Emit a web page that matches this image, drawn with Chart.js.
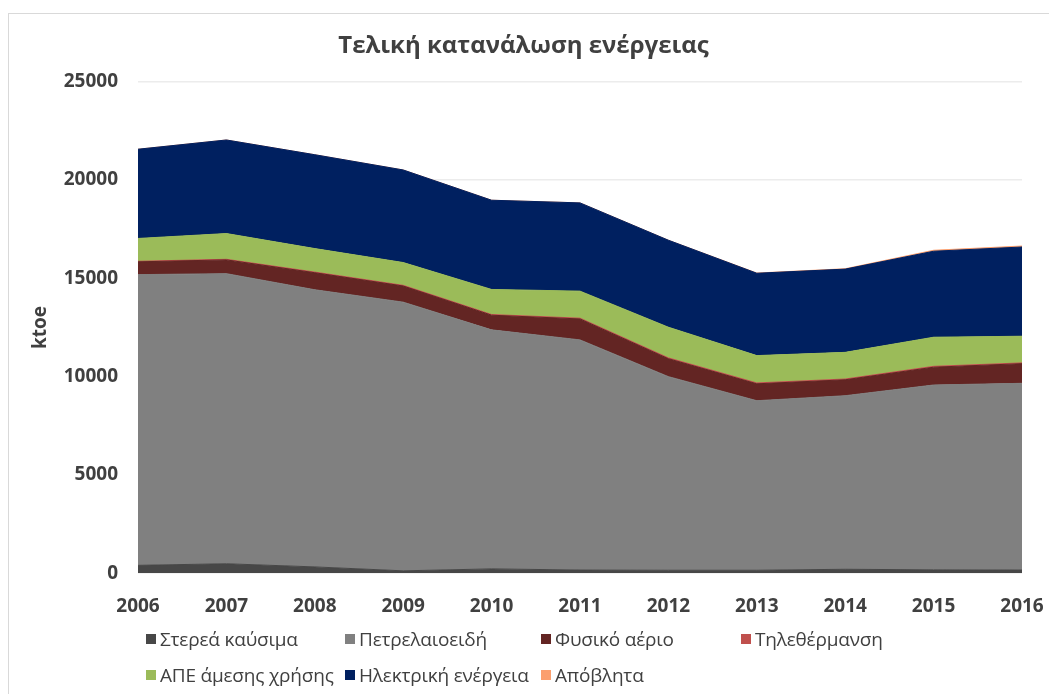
<!DOCTYPE html>
<html>
<head>
<meta charset="utf-8">
<script src="https://cdn.jsdelivr.net/npm/chart.js@4"></script>
<style>
	html, body { margin: 0; padding: 0; background: #fff; overflow: hidden; }
	#wrap { position: relative; width: 1049px; height: 694px; font-family: "Open Sans", sans-serif; }
	#frame { position: absolute; left: 8px; top: 13px; width: 1100px; height: 800px; border: 1px solid #d9d9d9; }
	#energyChart { position: absolute; left: 0; top: 0; }
	#legend { position: absolute; left: 146px; top: 626px; width: 860px; }
	#legend ul { list-style: none; margin: 0; padding: 0; display: grid; grid-template-columns: 199px 196px 200px 240px; row-gap: 10px; }
	#legend li { display: flex; align-items: center; font-size: 19px; color: #404040; white-space: nowrap; height: 26px; letter-spacing: -0.2px; }
	#legend li span { display: inline-block; width: 10px; height: 10px; margin-right: 4px; }
</style>
</head>
<body>
<div id="wrap">
	<div id="frame"></div>
	<canvas id="energyChart" width="1049" height="694"></canvas>
	<div id="legend"></div>
</div>
<script>
// Years on the x axis
var years = ['2006', '2007', '2008', '2009', '2010', '2011', '2012', '2013', '2014', '2015', '2016'];

// Series values (ktoe)
var solidFuels  = [400, 480, 320, 120, 220, 160, 150, 150, 200, 170, 160];
var petroleum   = [14790, 14760, 14100, 13670, 12160, 11710, 9850, 8625, 8830, 9405, 9500];
var naturalGas  = [650, 700, 865, 820, 745, 1065, 910, 860, 810, 905, 1000];
var districtHeat = [30, 30, 35, 35, 35, 40, 45, 45, 40, 45, 40];
var renewables  = [1160, 1310, 1195, 1160, 1275, 1375, 1560, 1390, 1355, 1480, 1355];
var electricity = [4540, 4760, 4775, 4710, 4540, 4490, 4425, 4190, 4235, 4375, 4540];
var waste       = [0, 0, 0, 0, 0, 0, 0, 10, 20, 50, 50];

var seriesNames = ['Στερεά καύσιμα', 'Πετρελαιοειδή', 'Φυσικό αέριο', 'Τηλεθέρμανση',
	'ΑΠΕ άμεσης χρήσης', 'Ηλεκτρική ενέργεια', 'Απόβλητα'];
var seriesData = [solidFuels, petroleum, naturalGas, districtHeat, renewables, electricity, waste];
var seriesColors = ['#474747', '#808080', '#632523', '#c0504d', '#9bbb59', '#002060', '#fb9f6e'];

// y axis ticks
var yMin = 0;
var yMax = 25000;
var yStep = 5000;

var datasets = seriesNames.map(function(name, i) {
	return {
		label: name,
		data: seriesData[i],
		backgroundColor: seriesColors[i],
		borderColor: seriesColors[i],
		borderWidth: 1,
		pointRadius: 0,
		pointHoverRadius: 0,
		tension: 0,
		fill: i === 0 ? 'origin' : '-1'
	};
});

// simple html legend, laid out in columns like the original
var htmlLegend = {
	id: 'htmlLegend',
	afterUpdate: function(chart) {
		var box = document.getElementById('legend');
		box.innerHTML = '';
		var ul = document.createElement('ul');
		chart.data.datasets.forEach(function(ds) {
			var li = document.createElement('li');
			var sw = document.createElement('span');
			sw.style.background = ds.backgroundColor;
			li.appendChild(sw);
			li.appendChild(document.createTextNode(ds.label));
			ul.appendChild(li);
		});
		box.appendChild(ul);
	}
};

var ctx = document.getElementById('energyChart').getContext('2d');

new Chart(ctx, {
	type: 'line',
	data: {
		labels: years,
		datasets: datasets
	},
	plugins: [htmlLegend],
	options: {
		responsive: false,
		animation: false,
		layout: {
			padding: { left: 25, right: 27, top: 16, bottom: 62 }
		},
		plugins: {
			legend: { display: false },
			tooltip: { enabled: false },
			title: {
				display: true,
				text: 'Τελική κατανάλωση ενέργειας',
				color: '#404040',
				font: { family: 'Open Sans', size: 24, weight: 'bold' },
				padding: { top: 16, bottom: 21 }
			}
		},
		scales: {
			x: {
				offset: false,
				afterFit: function(scale) {
					scale.paddingLeft = 0;
					scale.paddingRight = 0;
				},
				grid: { display: false },
				border: { display: false },
				ticks: {
					color: '#404040',
					padding: 14,
					maxRotation: 0,
					font: { family: 'Open Sans', size: 19, weight: 'bold' }
				}
			},
			y: {
				stacked: true,
				min: yMin,
				max: yMax,
				afterFit: function(scale) {
					scale.width = 113;
				},
				grid: { color: '#ececec', lineWidth: 1.5, drawTicks: false },
				border: { display: false },
				ticks: {
					stepSize: yStep,
					color: '#404040',
					padding: 20,
					font: { family: 'Open Sans', size: 19, weight: 'bold' },
					callback: function(value) {
						return String(value);
					}
				},
				title: {
					display: true,
					text: 'ktoe',
					color: '#404040',
					padding: { top: 4, bottom: 0 },
					font: { family: 'Open Sans', size: 19, weight: 'bold' }
				}
			}
		}
	}
});
</script>
</body>
</html>
